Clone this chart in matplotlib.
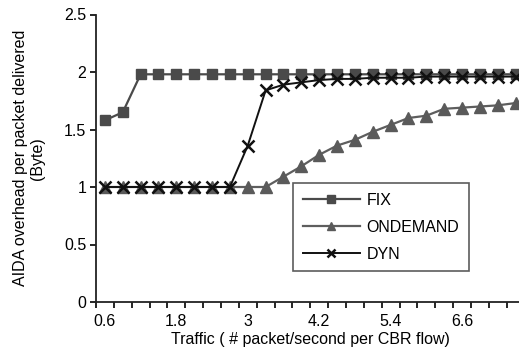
import numpy as np
import matplotlib
matplotlib.use("Agg")
import matplotlib.pyplot as plt
from matplotlib.ticker import FixedLocator

plt.rcParams['font.family'] = ['Liberation Sans', 'DejaVu Sans']

# Traffic rate categories (packets/second per CBR flow)
traffic = [0.6, 0.9, 1.2, 1.5, 1.8, 2.1, 2.4, 2.7, 3.0, 3.3, 3.6, 3.9,
           4.2, 4.5, 4.8, 5.1, 5.4, 5.7, 6.0, 6.3, 6.6, 6.9, 7.2, 7.5]

fix = [1.58, 1.65, 1.98, 1.98, 1.98, 1.98, 1.98, 1.98, 1.98, 1.98, 1.98, 1.98,
       1.98, 1.98, 1.98, 1.98, 1.98, 1.98, 1.98, 1.98, 1.98, 1.98, 1.98, 1.98]

ondemand = [1.0, 1.0, 1.0, 1.0, 1.0, 1.0, 1.0, 1.0, 1.0, 1.0, 1.09, 1.18,
            1.28, 1.36, 1.41, 1.48, 1.54, 1.60, 1.62, 1.68, 1.69, 1.70, 1.71, 1.73]

dyn = [1.0, 1.0, 1.0, 1.0, 1.0, 1.0, 1.0, 1.0, 1.36, 1.84, 1.89, 1.91,
       1.93, 1.94, 1.94, 1.95, 1.95, 1.95, 1.96, 1.96, 1.96, 1.96, 1.96, 1.96]

xtick_labels = ['0.6', '1.8', '3', '4.2', '5.4', '6.6']
yticks = [0, 0.5, 1, 1.5, 2, 2.5]

fig = plt.figure(figsize=(5.19, 3.54), dpi=100)
ax = fig.add_axes([96 / 519, 52 / 354, 428.5 / 519, 287.5 / 354])

ax.plot(traffic, fix, color='#4a4a4a', lw=1.6, marker='s', ms=7.5,
        mfc='#4a4a4a', mec='#4a4a4a', label='FIX', zorder=3)
ax.plot(traffic, ondemand, color='#5e5e5e', lw=1.6, marker='^', ms=8.5,
        mfc='#5a5a5a', mec='#5a5a5a', label='ONDEMAND', zorder=2)
ax.plot(traffic, dyn, color='#111111', lw=1.4, marker='x', ms=8, mew=1.8,
        label='DYN', zorder=4)

step = traffic[1] - traffic[0]
ax.set_xlim(traffic[0] - step / 2, traffic[-1] + step / 2)
ax.set_ylim(0, 2.5)

# category boundaries carry the tick marks, labels sit on category centres
bounds = [traffic[0] - step / 2 + i * step for i in range(len(traffic) + 1)]
ax.xaxis.set_minor_locator(FixedLocator(bounds))
ax.set_xticks([float(t) for t in xtick_labels])
ax.set_xticklabels(xtick_labels)
ax.tick_params(axis='x', which='major', length=0, pad=9, labelsize=11.5)
ax.tick_params(axis='x', which='minor', length=4, width=1.2, direction='out')

ax.set_yticks(yticks)
ax.set_yticklabels(['0', '0.5', '1', '1.5', '2', '2.5'])
ax.tick_params(axis='y', length=4, width=1.2, direction='out', pad=3,
               labelsize=11.5)

for side in ('top', 'right'):
    ax.spines[side].set_visible(False)
for side in ('left', 'bottom'):
    ax.spines[side].set_linewidth(1.3)
    ax.spines[side].set_color('#222222')

ax.set_xlabel('Traffic ( # packet/second per CBR flow)', fontsize=11.5,
              labelpad=2)
ax.set_ylabel('AIDA overhead per packet delivered\n(Byte)', fontsize=11.5,
              labelpad=14, linespacing=1.15)

leg = ax.legend(loc='upper left', bbox_to_anchor=(197 / 428.5, 1 - (183 - 14.5) / 287.5),
                frameon=True, fancybox=False, edgecolor='#333333',
                fontsize=11.5, markerscale=0.7, handlelength=3.6,
                borderpad=0.6, labelspacing=0.75, handletextpad=0.4,
                borderaxespad=0)
leg.get_frame().set_linewidth(1.2)

fig.savefig('out.png', dpi=100)
